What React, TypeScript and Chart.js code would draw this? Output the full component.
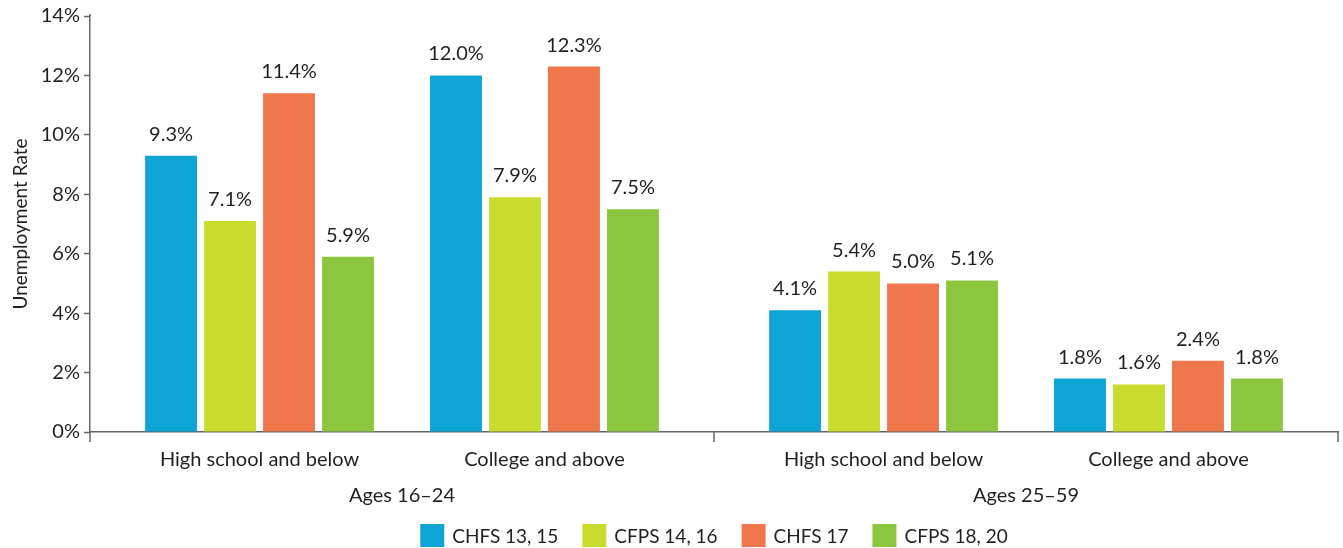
import React, { useEffect, useRef } from "react";
import { Chart, registerables } from "chart.js";

Chart.register(...registerables);

// ---- data ----
const categories = ["High school and below", "College and above", "High school and below", "College and above"];
const categoryGroup = [0, 0, 1, 1];
const groupLabels = ["Ages 16–24", "Ages 25–59"];
const seriesNames = ["CHFS 13, 15", "CFPS 14, 16", "CHFS 17", "CFPS 18, 20"];
const chfs1315 = [9.3, 12.0, 4.1, 1.8];
const cfps1416 = [7.1, 7.9, 5.4, 1.6];
const chfs17 = [11.4, 12.3, 5.0, 2.4];
const cfps1820 = [5.9, 7.5, 5.1, 1.8];
const yTickValues = [0, 2, 4, 6, 8, 10, 12, 14];
const yAxisTitle = "Unemployment Rate";

// ---- styles ----
const seriesColors = ["#0ea5d6", "#c9db2c", "#ef774b", "#8cc63f"];
const TEXT = "#231f20";
const AXIS = "#646567";
const FONT = "Lato, 'Open Sans', sans-serif";
const GROUP_GAP = 0.19;
const EDGE = 0.595;

const seriesValues = [chfs1315, cfps1416, chfs17, cfps1820];
const catX = categories.map((_, i) => i + categoryGroup[i] * GROUP_GAP);

const extrasPlugin = {
  id: "extras",
  afterDatasetsDraw(chart: any) {
    const ctx = chart.ctx;
    ctx.save();
    // data labels
    ctx.font = `20px ${FONT}`;
    ctx.fillStyle = TEXT;
    ctx.textAlign = "center";
    ctx.textBaseline = "alphabetic";
    chart.data.datasets.forEach((ds: any, di: number) => {
      const meta = chart.getDatasetMeta(di);
      meta.data.forEach((el: any, i: number) => {
        const v = seriesValues[di][i];
        ctx.fillText(v.toFixed(1) + "%", el.x, el.y - 15);
      });
    });
    ctx.restore();
  },
  afterDraw(chart: any) {
    const ctx = chart.ctx;
    const xs = chart.scales.x;
    const area = chart.chartArea;
    ctx.save();
    // group boundaries
    const bounds: number[] = [xs.min];
    for (let i = 1; i < catX.length; i++) {
      if (categoryGroup[i] !== categoryGroup[i - 1]) bounds.push((catX[i] + catX[i - 1]) / 2);
    }
    bounds.push(xs.max);
    ctx.strokeStyle = AXIS;
    ctx.lineWidth = 1.5;
    bounds.forEach((b) => {
      const px = xs.getPixelForValue(b);
      ctx.beginPath();
      ctx.moveTo(px, area.bottom);
      ctx.lineTo(px, area.bottom + 10);
      ctx.stroke();
    });
    // y axis small extension above top
    const yl = chart.scales.y.right;
    ctx.beginPath();
    ctx.moveTo(yl, area.top - 2);
    ctx.lineTo(yl, area.top);
    ctx.stroke();
    // group labels
    ctx.font = `20px ${FONT}`;
    ctx.fillStyle = TEXT;
    ctx.textAlign = "center";
    ctx.textBaseline = "middle";
    groupLabels.forEach((g, gi) => {
      const cx = (xs.getPixelForValue(bounds[gi]) + xs.getPixelForValue(bounds[gi + 1])) / 2;
      ctx.fillText(g, cx, area.bottom + 64);
    });
    // legend
    ctx.font = `19px ${FONT}`;
    const boxW = 24, boxH = 23, gapBT = 8, gapItems = 24;
    const widths = seriesNames.map((n) => boxW + gapBT + ctx.measureText(n).width);
    const total = widths.reduce((a, b) => a + b, 0) + gapItems * (widths.length - 1);
    let x = (area.left + area.right) / 2 - total / 2;
    const cy = chart.height - 12.5;
    ctx.textAlign = "left";
    seriesNames.forEach((n, i) => {
      ctx.fillStyle = seriesColors[i];
      ctx.fillRect(x, cy - boxH / 2, boxW, boxH);
      ctx.fillStyle = TEXT;
      ctx.fillText(n, x + boxW + gapBT, cy + 1);
      x += widths[i] + gapItems;
    });
    ctx.restore();
  },
};

export default function App() {
  const canvasRef = useRef<HTMLCanvasElement | null>(null);

  useEffect(() => {
    let chart: Chart | null = null;
    let cancelled = false;
    const build = () => {
      if (cancelled || !canvasRef.current) return;
      chart = new Chart(canvasRef.current, {
        type: "bar",
        data: {
          datasets: seriesNames.map((name, si) => ({
            label: name,
            data: catX.map((x, i) => ({ x, y: seriesValues[si][i] })),
            backgroundColor: seriesColors[si],
            borderWidth: 0,
            categoryPercentage: 0.828,
            barPercentage: 0.88,
          })),
        },
        options: {
          animation: false,
          responsive: false,
          maintainAspectRatio: false,
          layout: { padding: { top: 16, right: 5, left: 0, bottom: 0 } },
          plugins: {
            legend: { display: false },
            tooltip: { enabled: false },
          },
          scales: {
            x: {
              type: "linear",
              offset: false,
              min: catX[0] - EDGE,
              max: catX[catX.length - 1] + EDGE,
              afterBuildTicks: (scale: any) => {
                scale.ticks = catX.map((v) => ({ value: v }));
              },
              afterFit: (scale: any) => {
                scale.height = 116;
              },
              ticks: {
                autoSkip: false,
                maxRotation: 0,
                color: TEXT,
                font: { family: FONT, size: 20 },
                padding: 8,
                callback: (_v: any, idx: number) => categories[idx],
              },
              grid: { display: false, offset: false },
              border: { display: true, color: AXIS, width: 1.5 },
            },
            y: {
              min: 0,
              max: 14,
              afterBuildTicks: (scale: any) => {
                scale.ticks = yTickValues.map((v) => ({ value: v }));
              },
              afterFit: (scale: any) => {
                scale.width = 90;
              },
              ticks: {
                color: TEXT,
                font: { family: FONT, size: 20 },
                padding: 4,
                callback: (v: any) => v + "%",
              },
              grid: {
                display: true,
                drawOnChartArea: false,
                drawTicks: true,
                tickLength: 6,
                tickColor: AXIS,
                tickWidth: 1.5,
              },
              border: { display: true, color: AXIS, width: 1.5 },
              title: {
                display: true,
                text: yAxisTitle,
                color: TEXT,
                font: { family: FONT, size: 19 },
                padding: { top: 9, bottom: 0 },
              },
            },
          },
        },
        plugins: [extrasPlugin],
      } as any);
    };
    if ((document as any).fonts && (document as any).fonts.load) {
      Promise.all([
        (document as any).fonts.load(`20px Lato`),
      ]).then(build, build);
    } else build();
    return () => {
      cancelled = true;
      if (chart) chart.destroy();
    };
  }, []);

  return (
    <div style={{ position: "fixed", left: 0, top: 0, width: 1343, height: 548, background: "#fff" }}>
      <canvas ref={canvasRef} width={1343} height={548} style={{ width: 1343, height: 548, display: "block" }} />
    </div>
  );
}
